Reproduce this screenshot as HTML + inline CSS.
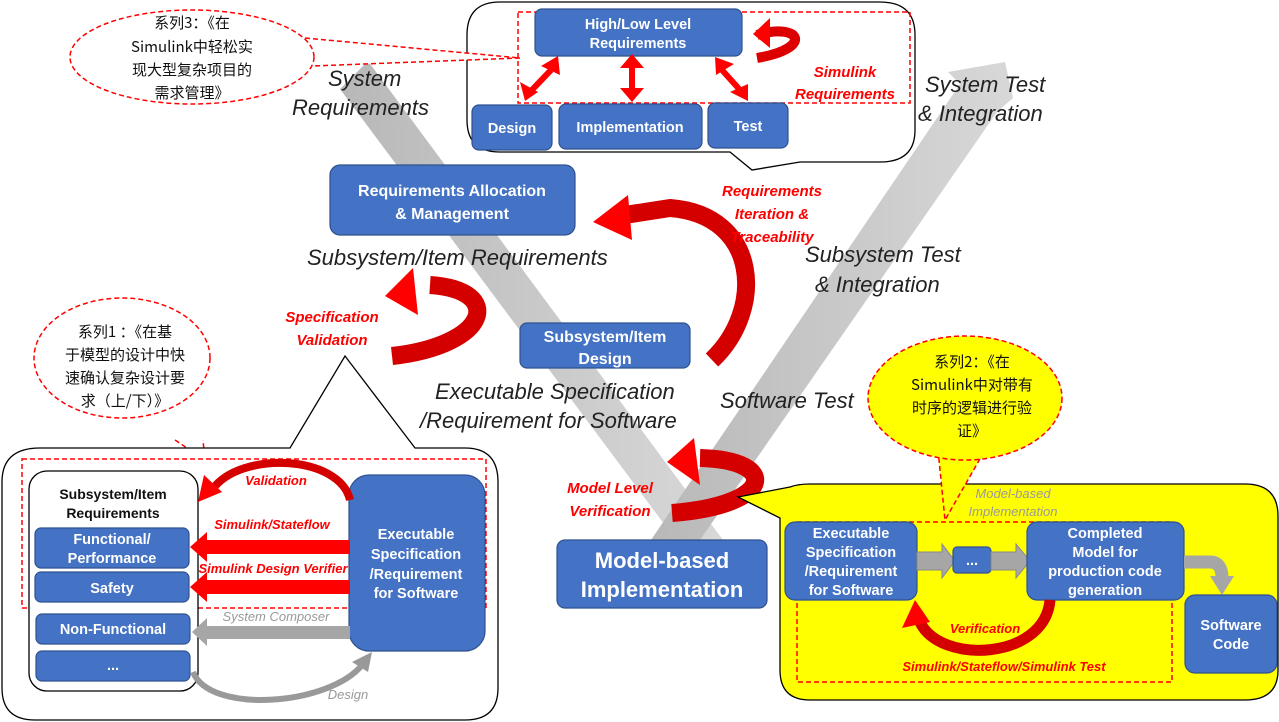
<!DOCTYPE html>
<html><head><meta charset="utf-8"><style>
html,body{margin:0;padding:0;background:#fff}
svg{display:block}
text{font-family:"Liberation Sans","Noto Sans CJK SC",sans-serif}
.bt{fill:#fff;font-size:14.5px;text-anchor:middle;font-weight:bold}
.it{font-style:italic;font-size:22px;fill:#222}
.rt{font-style:italic;font-weight:bold;fill:#f00;font-size:15px;text-anchor:middle}
.ct{font-size:15px;fill:#111;text-anchor:middle;font-family:"Noto Sans CJK SC",sans-serif}
.box{fill:#4472C4;stroke:#2F528F;stroke-width:1.2}
</style></head><body>
<svg width="1279" height="722" viewBox="0 0 1279 722" xmlns="http://www.w3.org/2000/svg">
<defs>
<linearGradient id="g1" x1="0" y1="0" x2="1" y2="0"><stop offset="0" stop-color="#b8b8b8"/><stop offset="1" stop-color="#d8d8d8"/></linearGradient>
</defs>
<polygon points="340,89 368,61 723,540 676,540" fill="url(#g1)"/>
<polygon points="651,540 700,540 997,112 1013,98 1005,62 948,72 960,84" fill="url(#g1)"/>

<path d="M500,2 H880 Q915,2 915,35 V130 Q915,162 880,162 H800 L752,170 L730,152 H500 Q467,152 467,120 V35 Q467,2 500,2 Z" fill="#fff" stroke="#000" stroke-width="1.3"/>
<rect x="518" y="12" width="392" height="91" fill="none" stroke="#f00" stroke-width="1.5" stroke-dasharray="5,3"/>
<rect class="box" x="535" y="9" width="207" height="47" rx="7"/>
<text class="bt" x="638" y="29">High/Low Level</text><text class="bt" x="638" y="48">Requirements</text>
<rect class="box" x="472" y="105" width="80" height="45" rx="7"/><text class="bt" x="512" y="133">Design</text>
<rect class="box" x="559" y="104" width="143" height="45" rx="7"/><text class="bt" x="630" y="132">Implementation</text>
<rect class="box" x="708" y="103" width="80" height="45" rx="7"/><text class="bt" x="748" y="131">Test</text>
<g stroke="#f00" stroke-width="6" fill="#f00">
<line x1="551" y1="70" x2="530" y2="92"/><line x1="632" y1="66" x2="632" y2="90"/><line x1="722" y1="70" x2="740" y2="90"/>
</g>
<g fill="#f00">
<polygon points="558,56 560,75 541,66"/><polygon points="525,101 520,82 538,92"/>
<polygon points="632,54 644,68 620,68"/><polygon points="632,102 644,88 620,88"/>
<polygon points="715,57 734,64 716,75"/><polygon points="748,101 730,92 748,84"/>
</g>
<path d="M757,35 C800,22 815,48 757,58" fill="none" stroke="#d00" stroke-width="10"/>
<polygon points="753,34 770,18 770,48" fill="#f00"/>
<text class="rt" x="845" y="77">Simulink</text><text class="rt" x="845" y="99">Requirements</text>

<path d="M305,38 L520,58 L312,66" fill="#fff" stroke="#f00" stroke-width="1.5" stroke-dasharray="5,3"/>
<ellipse cx="192" cy="57" rx="122" ry="47" fill="#fff" stroke="#f00" stroke-width="1.5" stroke-dasharray="5,3"/>
<text class="ct" x="192" y="28">系列3：《在</text>
<text class="ct" x="192" y="52">Simulink中轻松实</text>
<text class="ct" x="192" y="75">现大型复杂项目的</text>
<text class="ct" x="192" y="98">需求管理》</text>

<text class="it" x="328" y="86">System</text><text class="it" x="292" y="115">Requirements</text>
<text class="it" x="925" y="92">System Test</text><text class="it" x="918" y="121">&amp; Integration</text>

<rect class="box" x="330" y="165" width="245" height="70" rx="10"/>
<text class="bt" x="452" y="196" style="font-size:16px">Requirements Allocation</text>
<text class="bt" x="452" y="219" style="font-size:16px">&amp; Management</text>
<text class="it" x="307" y="265">Subsystem/Item Requirements</text>

<path d="M712,360 C765,310 760,215 670,208 L625,215" fill="none" stroke="#d40000" stroke-width="18"/>
<polygon points="593,222 628,195 632,240" fill="#f00"/>
<text class="rt" x="772" y="196">Requirements</text><text class="rt" x="772" y="219">Iteration &amp;</text><text class="rt" x="772" y="242">Traceability</text>
<text class="it" x="805" y="262">Subsystem Test</text><text class="it" x="815" y="292">&amp; Integration</text>

<path d="M392,356 C490,345 505,290 430,285" fill="none" stroke="#d40000" stroke-width="18"/>
<polygon points="385,296 413,268 418,315" fill="#f00"/>
<text class="rt" x="332" y="322">Specification</text><text class="rt" x="332" y="345">Validation</text>

<rect class="box" x="520" y="323" width="170" height="45" rx="7"/>
<text class="bt" x="605" y="342" style="font-size:16px">Subsystem/Item</text><text class="bt" x="605" y="364" style="font-size:16px">Design</text>
<text class="it" x="435" y="399">Executable Specification</text>
<text class="it" x="420" y="428">/Requirement for Software</text>
<text class="it" x="720" y="408">Software Test</text>

<path d="M672,513 C775,505 780,460 700,458" fill="none" stroke="#d40000" stroke-width="18"/>
<polygon points="667,462 694,438 700,485" fill="#f00"/>
<text class="rt" x="610" y="493">Model Level</text><text class="rt" x="610" y="516">Verification</text>

<rect class="box" x="557" y="540" width="210" height="68" rx="8"/>
<text class="bt" x="662" y="568" style="font-size:22px">Model-based</text>
<text class="bt" x="662" y="597" style="font-size:22px">Implementation</text>

<path d="M175,440 L205,460 L203,440" fill="none" stroke="#f00" stroke-width="1.5" stroke-dasharray="5,3"/>
<ellipse cx="122" cy="358" rx="88" ry="60" fill="#fff" stroke="#f00" stroke-width="1.5" stroke-dasharray="5,3"/>
<text class="ct" x="125" y="337">系列1 ：《在基</text>
<text class="ct" x="125" y="360">于模型的设计中快</text>
<text class="ct" x="125" y="383">速确认复杂设计要</text>
<text class="ct" x="125" y="406">求（上/下）》</text>

<path d="M40,448 H290 L345,356 L415,448 H465 Q498,448 498,482 V688 Q498,720 465,720 H35 Q2,720 2,688 V482 Q2,448 40,448 Z" fill="#fff" stroke="#000" stroke-width="1.3"/>
<rect x="22" y="459" width="464" height="149" fill="none" stroke="#f00" stroke-width="1.5" stroke-dasharray="5,3"/>
<rect x="29" y="471" width="169" height="220" rx="18" fill="#fff" stroke="#000" stroke-width="1.3"/>
<text x="113" y="499" style="font-size:14px;text-anchor:middle;fill:#111;font-weight:bold">Subsystem/Item</text>
<text x="113" y="518" style="font-size:14px;text-anchor:middle;fill:#111;font-weight:bold">Requirements</text>
<rect class="box" x="35" y="528" width="154" height="40" rx="6"/>
<text class="bt" x="112" y="544">Functional/</text><text class="bt" x="112" y="563">Performance</text>
<rect class="box" x="35" y="572" width="154" height="30" rx="6"/><text class="bt" x="112" y="593">Safety</text>
<rect class="box" x="36" y="614" width="154" height="30" rx="6"/><text class="bt" x="113" y="634">Non-Functional</text>
<rect class="box" x="36" y="651" width="154" height="30" rx="6"/><text class="bt" x="113" y="670">...</text>
<rect class="box" x="349" y="475" width="136" height="176" rx="20"/>
<text class="bt" x="416" y="539">Executable</text><text class="bt" x="416" y="559">Specification</text>
<text class="bt" x="416" y="579">/Requirement</text><text class="bt" x="416" y="598">for Software</text>
<path d="M350,500 C340,455 240,450 212,490" fill="none" stroke="#d40000" stroke-width="8"/>
<polygon points="198,502 204,475 222,492" fill="#f00"/>
<text class="rt" x="276" y="485" style="font-size:13px">Validation</text>
<text class="rt" x="272" y="529" style="font-size:13px">Simulink/Stateflow</text>
<rect x="205" y="540" width="145" height="14" fill="#f00"/><polygon points="190,547 207,532 207,562" fill="#f00"/>
<text class="rt" x="273" y="573" style="font-size:13px">Simulink Design Verifier</text>
<rect x="205" y="580" width="145" height="14" fill="#f00"/><polygon points="190,587 207,572 207,602" fill="#f00"/>
<text x="276" y="621" style="font-size:13px;font-style:italic;fill:#999;text-anchor:middle">System Composer</text>
<rect x="205" y="626" width="145" height="13" fill="#a6a6a6"/><polygon points="192,632 207,618 207,646" fill="#a6a6a6"/>
<path d="M193,672 C210,715 330,705 362,665" fill="none" stroke="#999" stroke-width="6"/>
<polygon points="372,652 352,662 368,672" fill="#999"/>
<text x="348" y="699" style="font-size:13px;font-style:italic;fill:#999;text-anchor:middle">Design</text>

<path d="M810,484 H1245 Q1278,484 1278,516 V670 Q1278,700 1245,700 H810 Q780,700 780,670 V518 L738,497 L790,487 Q798,484 810,484 Z" fill="#ff0" stroke="#000" stroke-width="1.3"/>
<path d="M938,450 L945,520 L985,450" fill="#ff0" stroke="#f00" stroke-width="1.5" stroke-dasharray="5,3"/>
<ellipse cx="965" cy="398" rx="97" ry="62" fill="#ff0" stroke="#f00" stroke-width="1.5" stroke-dasharray="5,3"/>
<text class="ct" x="972" y="367">系列2：《在</text>
<text class="ct" x="972" y="390">Simulink中对带有</text>
<text class="ct" x="972" y="413">时序的逻辑进行验</text>
<text class="ct" x="972" y="436">证》</text>
<text x="1013" y="498" style="font-size:13px;font-style:italic;fill:#999;text-anchor:middle">Model-based</text>
<text x="1013" y="516" style="font-size:13px;font-style:italic;fill:#999;text-anchor:middle">Implementation</text>
<rect x="797" y="522" width="375" height="160" fill="none" stroke="#f00" stroke-width="1.5" stroke-dasharray="5,3"/>
<rect class="box" x="785" y="522" width="132" height="78" rx="10"/>
<text class="bt" x="851" y="538">Executable</text><text class="bt" x="851" y="557">Specification</text>
<text class="bt" x="851" y="576">/Requirement</text><text class="bt" x="851" y="595">for Software</text>
<polygon points="917,552 942,552 942,544 955,561 942,578 942,570 917,570" fill="#a6a6a6" stroke="#888"/>
<rect class="box" x="953" y="547" width="38" height="26" rx="4"/><text class="bt" x="972" y="565">...</text>
<polygon points="991,552 1016,552 1016,544 1030,561 1016,578 1016,570 991,570" fill="#a6a6a6" stroke="#888"/>
<rect class="box" x="1027" y="522" width="157" height="78" rx="10"/>
<text class="bt" x="1105" y="538">Completed</text><text class="bt" x="1105" y="557">Model for</text>
<text class="bt" x="1105" y="576">production code</text><text class="bt" x="1105" y="595">generation</text>
<path d="M1184,562 H1210 Q1222,562 1222,578" fill="none" stroke="#a6a6a6" stroke-width="13"/>
<polygon points="1210,576 1234,576 1222,595" fill="#a6a6a6"/>
<rect class="box" x="1185" y="595" width="92" height="78" rx="10"/>
<text class="bt" x="1231" y="630">Software</text><text class="bt" x="1231" y="649">Code</text>
<path d="M1050,600 C1045,660 940,665 920,622" fill="none" stroke="#d40000" stroke-width="11"/>
<polygon points="902,628 915,600 930,622" fill="#f00"/>
<text class="rt" x="985" y="633" style="font-size:13px">Verification</text>
<text class="rt" x="1004" y="671" style="font-size:13px">Simulink/Stateflow/Simulink Test</text>
</svg>
</body></html>
